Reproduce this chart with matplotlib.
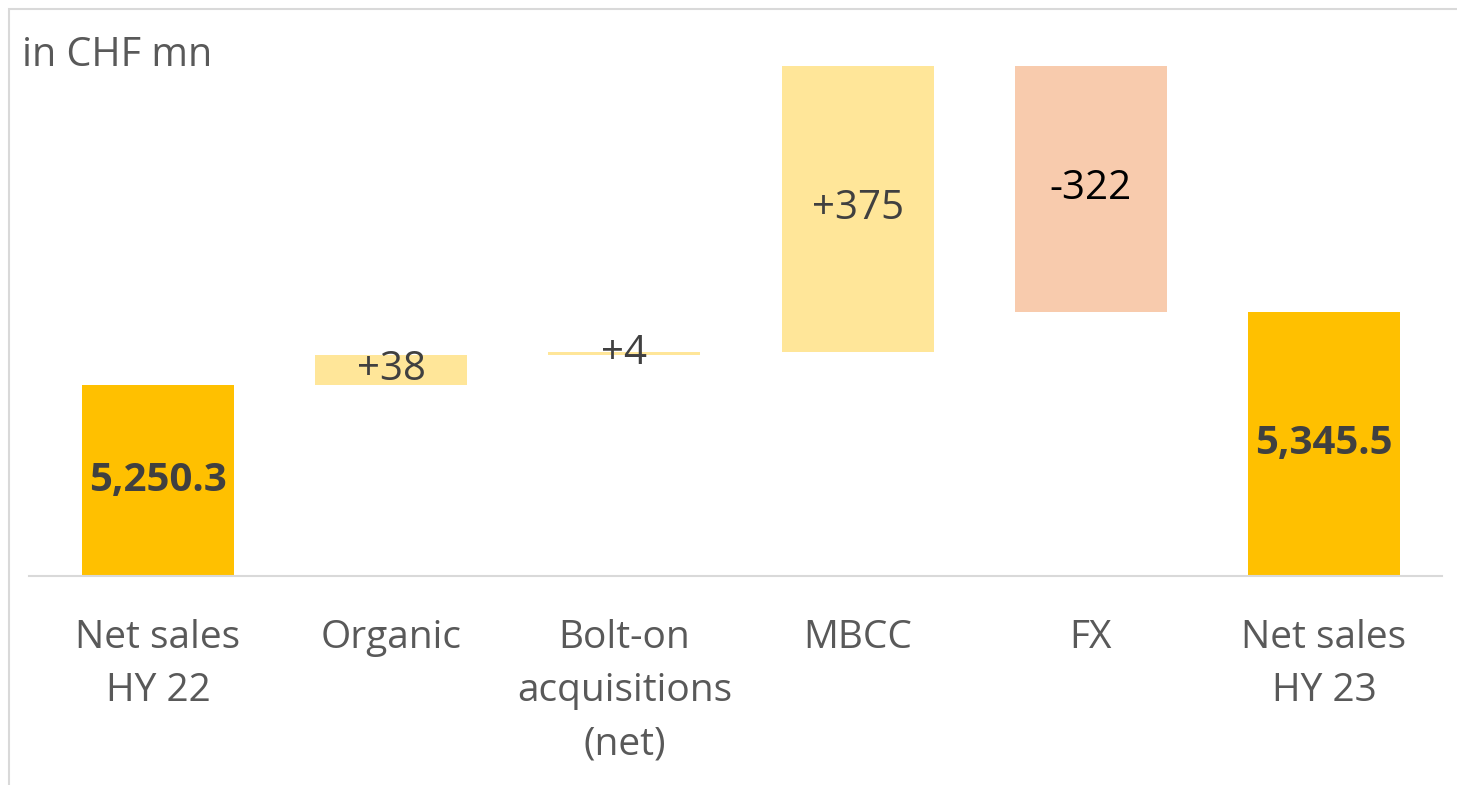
import matplotlib
matplotlib.use("Agg")
import matplotlib.pyplot as plt
from matplotlib.patches import Rectangle

categories = ["Net sales\nHY 22", "Organic", "Bolt-on\nacquisitions\n(net)", "MBCC", "FX", "Net sales\nHY 23"]
values = [5250.3, 38, 4, 375, -322, 5345.5]
labels = ["5,250.3", "+38", "+4", "+375", "-322", "5,345.5"]
is_total = [True, False, False, False, False, True]

plt.rcParams['font.family'] = ['Open Sans', 'DejaVu Sans']

W, H = 1457, 785
fig = plt.figure(figsize=(W / 100, H / 100), dpi=100)
fig.patch.set_facecolor("white")

# border
fig.patches.append(Rectangle((9 / W, -0.1), 1.2, 1 - 9 / H + 0.1, transform=fig.transFigure,
                             fill=False, edgecolor="#D9D9D9", linewidth=1.5))

ax_left, ax_right = 29 / W, 1442 / W
ax_bottom, ax_top = (H - 576) / H, (H - 40) / H
ax = fig.add_axes([ax_left, ax_bottom, ax_right - ax_left, ax_top - ax_bottom])

ymin = 5000
ymax = 5000 + 536 / 0.765
x = list(range(len(categories)))

running = 0
for i, (v, tot, lab) in enumerate(zip(values, is_total, labels)):
    if tot:
        color = "#FFC000"
        running = v
        mid = (ymin + v) / 2
        ax.bar(i, v, bottom=0, width=0.652, color=color, zorder=2)
        ax.text(i, mid, lab, ha="center", va="center", fontsize=29, fontweight="bold", color="#404040")
    else:
        bottom = running if v >= 0 else running + v
        color = "#FFE699" if v >= 0 else "#F8CBAD"
        ax.bar(i, abs(v), bottom=bottom, width=0.652, color=color, zorder=2)
        running += v
        mid = bottom + abs(v) / 2
        ax.text(i, mid, lab, ha="center", va="center", fontsize=29,
                color="#404040" if v >= 0 else "#000000")

ax.set_ylim(ymin, ymax)
ax.set_xlim(-0.553, 5.506)
ax.set_yticks([])
ax.set_xticks(x)
ax.set_xticklabels(categories, fontsize=28, color="#595959", linespacing=1.52)
ax.tick_params(axis="x", length=0, pad=31)
for s in ["top", "right", "left"]:
    ax.spines[s].set_visible(False)
ax.spines["bottom"].set_color("#D9D9D9")
ax.spines["bottom"].set_linewidth(1.5)
ax.patch.set_alpha(0)

fig.text(22 / W, 1 - 66 / H, "in CHF mn", fontsize=28.5, color="#595959", ha="left", va="baseline")

fig.savefig("out.png", dpi=100, facecolor="white")
